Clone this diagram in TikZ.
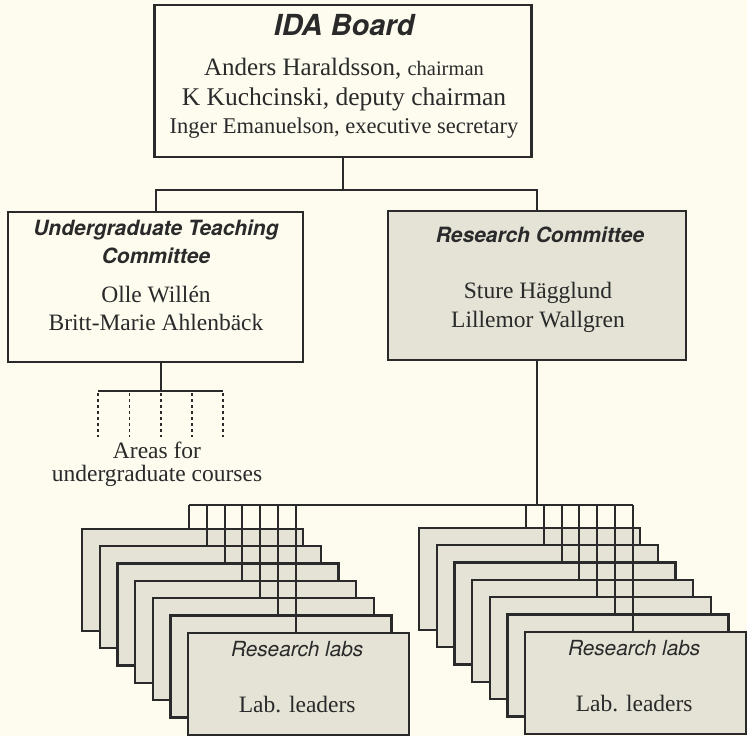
\documentclass[tikz,border=0pt]{standalone}
\usepackage{fontspec}
\setmainfont{Liberation Serif}
\newfontfamily\hvfont{TeX Gyre Heros}
\usetikzlibrary{calc}
\definecolor{bgc}{HTML}{FDFCEF}
\definecolor{shade}{HTML}{E4E3D6}
\definecolor{ink}{HTML}{2A2A2A}
\newcommand{\fs}[1]{\fontsize{#1}{#1}\selectfont}
\tikzset{
  box/.style={draw=ink, line width=2.3pt, rectangle, inner sep=0pt, outer sep=0pt, fill=bgc},
  shadebox/.style={box, fill=shade},
  labbox/.style={shadebox, minimum width=221pt, minimum height=102pt},
  wire/.style={draw=ink, line width=2pt},
  dots/.style={draw=ink, line width=1.8pt, dash pattern=on 2.5pt off 3.5pt},
  txtbase/.style={anchor=base, inner sep=0pt, text=ink},
  ttltxt/.style={txtbase, font={\hvfont\bfseries\itshape\fs{21}}},
  nmtxt/.style={txtbase, font={\fs{23.5}}},
  labtxt/.style={txtbase, font={\hvfont\itshape\fs{20.8}}},
}
\begin{document}
\begin{tikzpicture}[x=1pt,y=-1pt]
\fill[bgc] (0,0) rectangle (747,736);
\useasboundingbox (0,0) rectangle (747,736);

% main boxes
\node[box, minimum width=377pt, minimum height=152pt] (ida) at (343,81) {};
\node[box, minimum width=295pt, minimum height=150pt] (utc) at (155.5,287) {};
\node[shadebox, minimum width=298pt, minimum height=149pt] (rc) at (537,285.5) {};

% top connectors
\coordinate (split) at (343,190);
\draw[wire] (ida.south) -- (split);
\draw[wire] (utc.north) |- (split) -| (rc.north);

% areas for undergraduate courses
\coordinate (a1) at (98,391);
\coordinate (a2) at (129.5,391);
\coordinate (a3) at (161,391);
\coordinate (a4) at (192,391);
\coordinate (a5) at (223,391);
\draw[wire] (a3 |- utc.south) -- (a3);
\draw[wire] (a1) -- (a5);
\foreach \i in {1,...,5}{
  \coordinate (b\i) at ($(a\i)+(0,46)$);
  \draw[dots] ($(a\i)+(0,2)$) -- (b\i);
}
\node[nmtxt] (ar1) at (157,458) {Areas for};
\node[nmtxt] (ar2) at (157,481) {undergraduate courses};

% research lab stacks
\foreach \k in {0,...,6}{
  \node[labbox] (L\k) at ({192.5+17.7*\k},{580+17.3*\k}) {};
  \node[labbox] (R\k) at ({529.5+17.7*\k},{579+17.3*\k}) {};
}
\coordinate (bus) at (0,505);
\foreach \k in {0,...,6}{
  \coordinate (Lin\k) at ($(L\k.north west)+({107+0.1*\k},0)$);
  \coordinate (Rin\k) at ($(R\k.north west)+({107+0.1*\k},0)$);
  \draw[wire] (Lin\k) -- (Lin\k |- bus);
  \draw[wire] (Rin\k) -- (Rin\k |- bus);
}
\draw[wire] (Lin0 |- bus) -- (Rin6 |- bus);
\draw[wire] (rc.south) -- (rc.south |- bus);

% texts
\node[txtbase, font={\hvfont\bfseries\itshape\fs{29}}] (idat) at (344,35) {IDA Board};
\node[txtbase, font={\fs{25}}] (l1) at (344,75) {Anders Haraldsson, {\fs{20.5}chairman}};
\node[txtbase, font={\fs{25.5}}] (l2) at (344,105) {K Kuchcinski, deputy chairman};
\node[txtbase, font={\fs{22.5}}] (l3) at (344,133) {Inger Emanuelson, executive secretary};

\node[ttltxt] (ut1) at (156,235) {Undergraduate Teaching};
\node[ttltxt] (ut2) at (156,263) {Committee};
\node[nmtxt] (un1) at (156,302) {Olle Willén};
\node[nmtxt] (un2) at (156,330) {Britt-Marie Ahlenbäck};

\node[ttltxt] (rt1) at (540,242) {Research Committee};
\node[nmtxt] (rn1) at (538,298) {Sture Hägglund};
\node[nmtxt] (rn2) at (538,327) {Lillemor Wallgren};

\node[labtxt] (lt) at ($(L6.north west)+(109,24)$) {Research labs};
\node[nmtxt] (ll) at ($(L6.north west)+(109,80)$) {Lab. leaders};
\node[labtxt] (rt) at ($(R6.north west)+(109,24)$) {Research labs};
\node[nmtxt] (rl) at ($(R6.north west)+(109,80)$) {Lab. leaders};
\end{tikzpicture}
\end{document}
